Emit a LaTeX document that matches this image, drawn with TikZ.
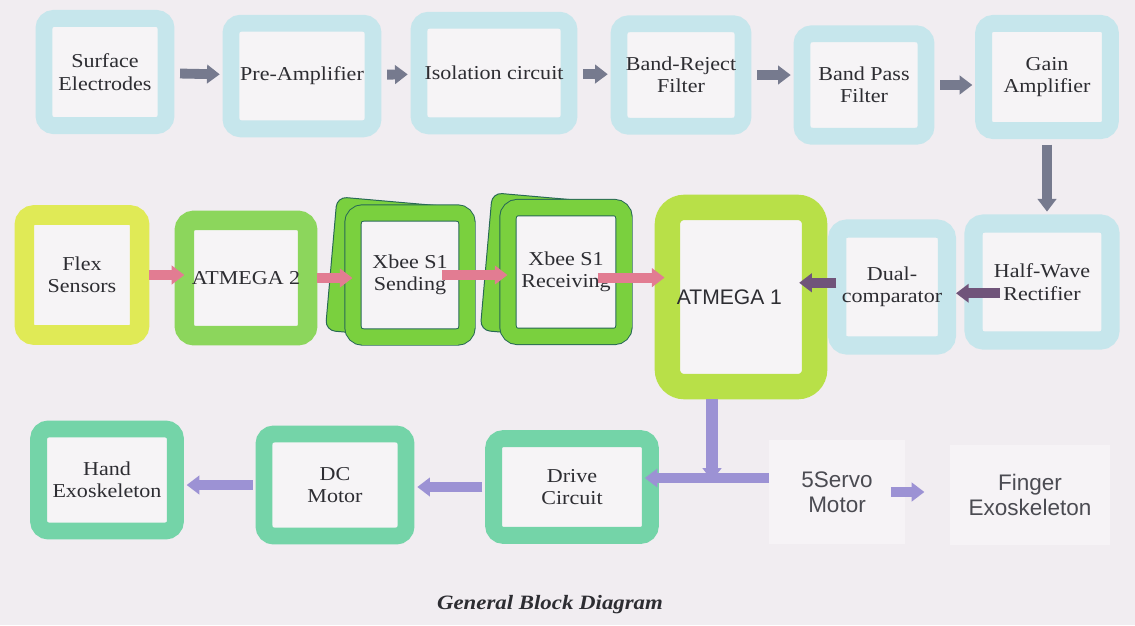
\documentclass[tikz,border=0pt]{standalone}
\usepackage{fontspec}
\setmainfont{Liberation Serif}[FakeStretch=1.12]
\newfontfamily\arialfont{Liberation Sans}
\usepackage{xcolor}
\usetikzlibrary{arrows.meta, positioning, calc}

\definecolor{paper}{RGB}{241,237,241}
\definecolor{inner}{RGB}{246,244,246}
\definecolor{ink}{RGB}{45,45,50}
\definecolor{greyink}{RGB}{75,75,82}
\definecolor{sky}{RGB}{198,230,236}
\definecolor{lemon}{RGB}{224,234,86}
\definecolor{leaf}{RGB}{140,214,92}
\definecolor{xgreen}{RGB}{122,208,62}
\definecolor{xdark}{RGB}{40,105,85}
\definecolor{lime}{RGB}{184,224,72}
\definecolor{mint}{RGB}{116,212,168}
\definecolor{slate}{RGB}{118,122,142}
\definecolor{rose}{RGB}{226,124,146}
\definecolor{plum}{RGB}{112,84,122}
\definecolor{lilac}{RGB}{156,146,212}

\begin{document}
\begin{tikzpicture}[x=0.025cm, y=-0.025cm, >={Triangle[length=9pt,width=13pt]}]
    \tikzset{
        block/.style={rectangle, rounded corners=7pt, fill=inner, text=ink, align=center, font=\fontsize{14}{16}\selectfont},
        skybox/.style={block, draw=sky, line width=12pt},
        mintbox/.style={block, draw=mint, line width=12pt},
        xfront/.style={block, draw=xdark, line width=0.7pt, double=xgreen, double distance=11pt},
        xback/.style={rectangle, rounded corners=7pt, fill=xgreen, draw=xdark, line width=0.7pt},
        ghost/.style={rectangle, fill=white!35!paper, text=greyink, align=center, font=\arialfont\fontsize{16}{18}\selectfont},
        line/.style={draw, ->, line width=7pt, shorten <=4pt, shorten >=2pt}
    }

    % background page
    \fill[paper] (0,0) rectangle (1135,625);

    % EMG chain
    \node (Surface) [skybox, minimum width=3.05cm, minimum height=2.68cm] at (105,72) {Surface\\Electrodes};
    \node (PreAmp) [skybox, minimum width=3.55cm, minimum height=2.64cm] at (302,76) {Pre-Amplifier};
    \node (Isolation) [skybox, minimum width=3.75cm, minimum height=2.64cm] at (494,73) {Isolation circuit};
    \node (BandReject) [skybox, minimum width=3.1cm, minimum height=2.56cm] at (681,75) {Band-Reject\\Filter};
    \node (BandPass) [skybox, minimum width=3.1cm, minimum height=2.56cm] at (864,85) {Band Pass\\Filter};
    \node (Gain) [skybox, minimum width=3.17cm, minimum height=2.68cm] at (1047,77) {Gain\\Amplifier};

    % middle row
    \node (Flex) [block, draw=lemon, line width=14pt, minimum width=2.88cm, minimum height=3cm] at (82,275) {Flex\\Sensors};
    \node (Atmega2) [block, draw=leaf, line width=14pt, minimum width=3.08cm, minimum height=2.88cm] at (246,278) {ATMEGA 2};
    \node (SendBack) [xback, rotate=-5, minimum width=3.1cm, minimum height=3.35cm] at (393,269) {};
    \node (Sending) [xfront, minimum width=2.85cm, minimum height=3.1cm] at (410,275) {Xbee S1\\Sending};
    \node (RecvBack) [xback, rotate=-5, minimum width=3.15cm, minimum height=3.45cm] at (549,267) {};
    \node (Receiving) [xfront, minimum width=2.9cm, minimum height=3.22cm] at (566,272) {Xbee S1\\Receiving};
    \node (Atmega1) [block, draw=lime, line width=18pt, rounded corners=12pt, minimum width=3.68cm, minimum height=4.48cm, font=\arialfont\fontsize{15}{17}\selectfont] at (741,297) {ATMEGA 1\hspace*{1.1em}};
    \node (Dual) [skybox, line width=13pt, minimum width=2.68cm, minimum height=2.92cm] at (892,287) {Dual-\\comparator};
    \node (HalfWave) [skybox, line width=13pt, minimum width=3.42cm, minimum height=2.92cm] at (1042,282) {Half-Wave\\Rectifier};

    % actuator row
    \node (Hand) [mintbox, minimum width=3.42cm, minimum height=2.55cm] at (107,480) {Hand\\Exoskeleton};
    \node (DCMotor) [mintbox, minimum width=3.55cm, minimum height=2.55cm] at (335,485) {DC\\Motor};
    \node (Drive) [mintbox, minimum width=3.92cm, minimum height=2.42cm] at (572,487) {Drive\\Circuit};
    \node (Servo) [ghost, minimum width=3.38cm, minimum height=2.62cm] at (837,492) {5Servo\\Motor};
    \node (Finger) [ghost, minimum width=4cm, minimum height=2.5cm] at (1030,495) {Finger\\Exoskeleton};

    \node (Caption) [font=\bfseries\itshape\fontsize{14.5}{16}\selectfont, text=ink] at (550,605) {General Block Diagram};

    \coordinate (Tee) at (712,478);

    \path [line, slate] (Surface) -- (PreAmp);
    \path [line, slate] (PreAmp) -- (Isolation);
    \path [line, slate] (Isolation) -- (BandReject);
    \path [line, slate] (BandReject.east) -- (BandReject.east -| BandPass.west);
    \path [line, slate] (BandPass.east) -- (BandPass.east -| Gain.west);
    \path [line, slate] (Gain.south) -- (Gain.south |- HalfWave.north);

    \path [line, plum, shorten <=0pt, shorten >=0pt] ([xshift=25pt, yshift=-8pt]HalfWave.west) -- ([yshift=-8pt]HalfWave.west -| Dual.east);
    \path [line, plum, shorten <=0pt, shorten >=0pt] ([xshift=6pt, yshift=3pt]Dual.west) -- ([xshift=-20pt, yshift=3pt]Dual.west -| Atmega1.east);
    \path [line, rose, shorten <=0pt, shorten >=0pt] ([xshift=-19pt, yshift=-4pt]Receiving.east) -- ([xshift=7pt, yshift=-4pt]Receiving.east -| Atmega1.west);
    \path [line, rose, shorten <=0pt, shorten >=0pt] ([xshift=-18pt]Sending.east) -- (Sending.east -| Receiving.west);
    \path [line, rose, shorten <=0pt, shorten >=0pt] (Atmega2.east) -- (Atmega2.east -| Sending.west);
    \path [line, rose, shorten <=0pt, shorten >=0pt] (Flex.east) -- ([xshift=7pt]Flex.east -| Atmega2.west);

    \path [line, lilac, line width=9pt, shorten <=0pt, shorten >=-2pt] (Atmega1.south -| Tee) -- (Tee);
    \path [draw, lilac, line width=7pt] (Tee) -- (Tee -| Servo.west);
    \path [line, lilac, shorten <=0pt, shorten >=0pt] (Tee) -- ([xshift=-10pt]Tee -| Drive.east);
    \path [line, lilac, shorten <=2pt] (Drive.west) -- (Drive.west -| DCMotor.east);
    \path [line, lilac, shorten <=2pt] (DCMotor.west) -- (DCMotor.west -| Hand.east);
    \path [line, lilac, shorten <=0pt, shorten >=18pt] ([xshift=-10pt]Servo.east) -- (Servo.east -| Finger.west);

\end{tikzpicture}
\end{document}
